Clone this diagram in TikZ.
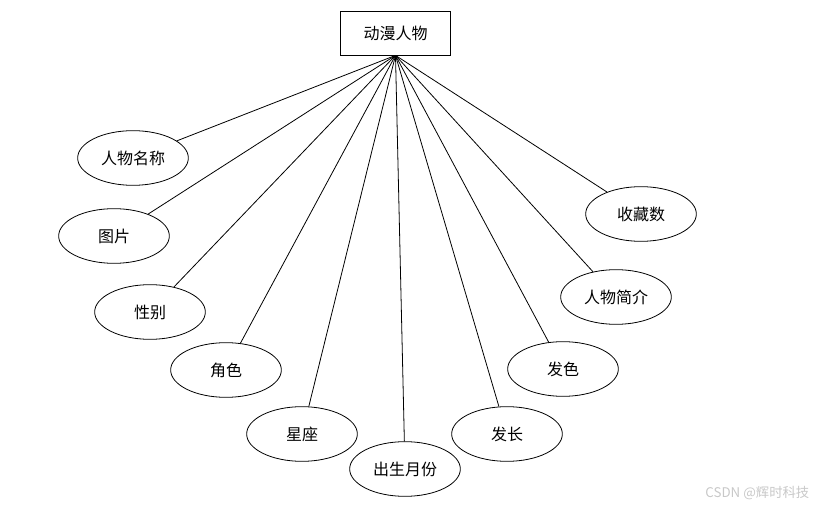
\documentclass[tikz,border=0pt]{standalone}
\usepackage{fontspec}
\setmainfont{Noto Sans CJK SC}
\usepackage{xcolor}
\usetikzlibrary{shapes.geometric,positioning}
\definecolor{wmark}{HTML}{c8c8c8}

\begin{document}
\begin{tikzpicture}[
  x=0.75pt, y=-0.75pt,
  ent/.style={rectangle, draw=black, fill=white, line width=0.6pt,
    minimum width=83pt, minimum height=33pt, font=\fontsize{12}{14}\selectfont, inner sep=2pt},
  attr/.style={ellipse, draw=black, fill=white, line width=0.6pt,
    minimum width=83pt, minimum height=41pt, font=\fontsize{12}{14}\selectfont, inner sep=1pt},
  link/.style={line width=0.6pt, color=black}
]
\useasboundingbox (0,0) rectangle (825,509);
\node[ent] (role) at (395.5,33) {动漫人物};
\node[attr] (name)   at (133,158) {人物名称};
\node[attr] (pic)    at (114,236) {图片};
\node[attr] (sex)    at (150,312) {性别};
\node[attr] (part)   at (226,370) {角色};
\node[attr] (star)   at (302,434) {星座};
\node[attr] (month)  at (405,469) {出生月份};
\node[attr] (hairl)  at (507,434) {发长};
\node[attr] (hairc)  at (563,369) {发色};
\node[attr] (intro)  at (616,297) {人物简介};
\node[attr] (fav)    at (641,214) {收藏数};
\foreach \a in {name,pic,sex,part,star,month,hairl,hairc,intro,fav}
  \draw[link] (role.south) -- (\a);
\node[text=wmark, font=\fontsize{10}{11}\selectfont, anchor=east] (mark) at (814,493) {CSDN @辉时科技};
\end{tikzpicture}
\end{document}
